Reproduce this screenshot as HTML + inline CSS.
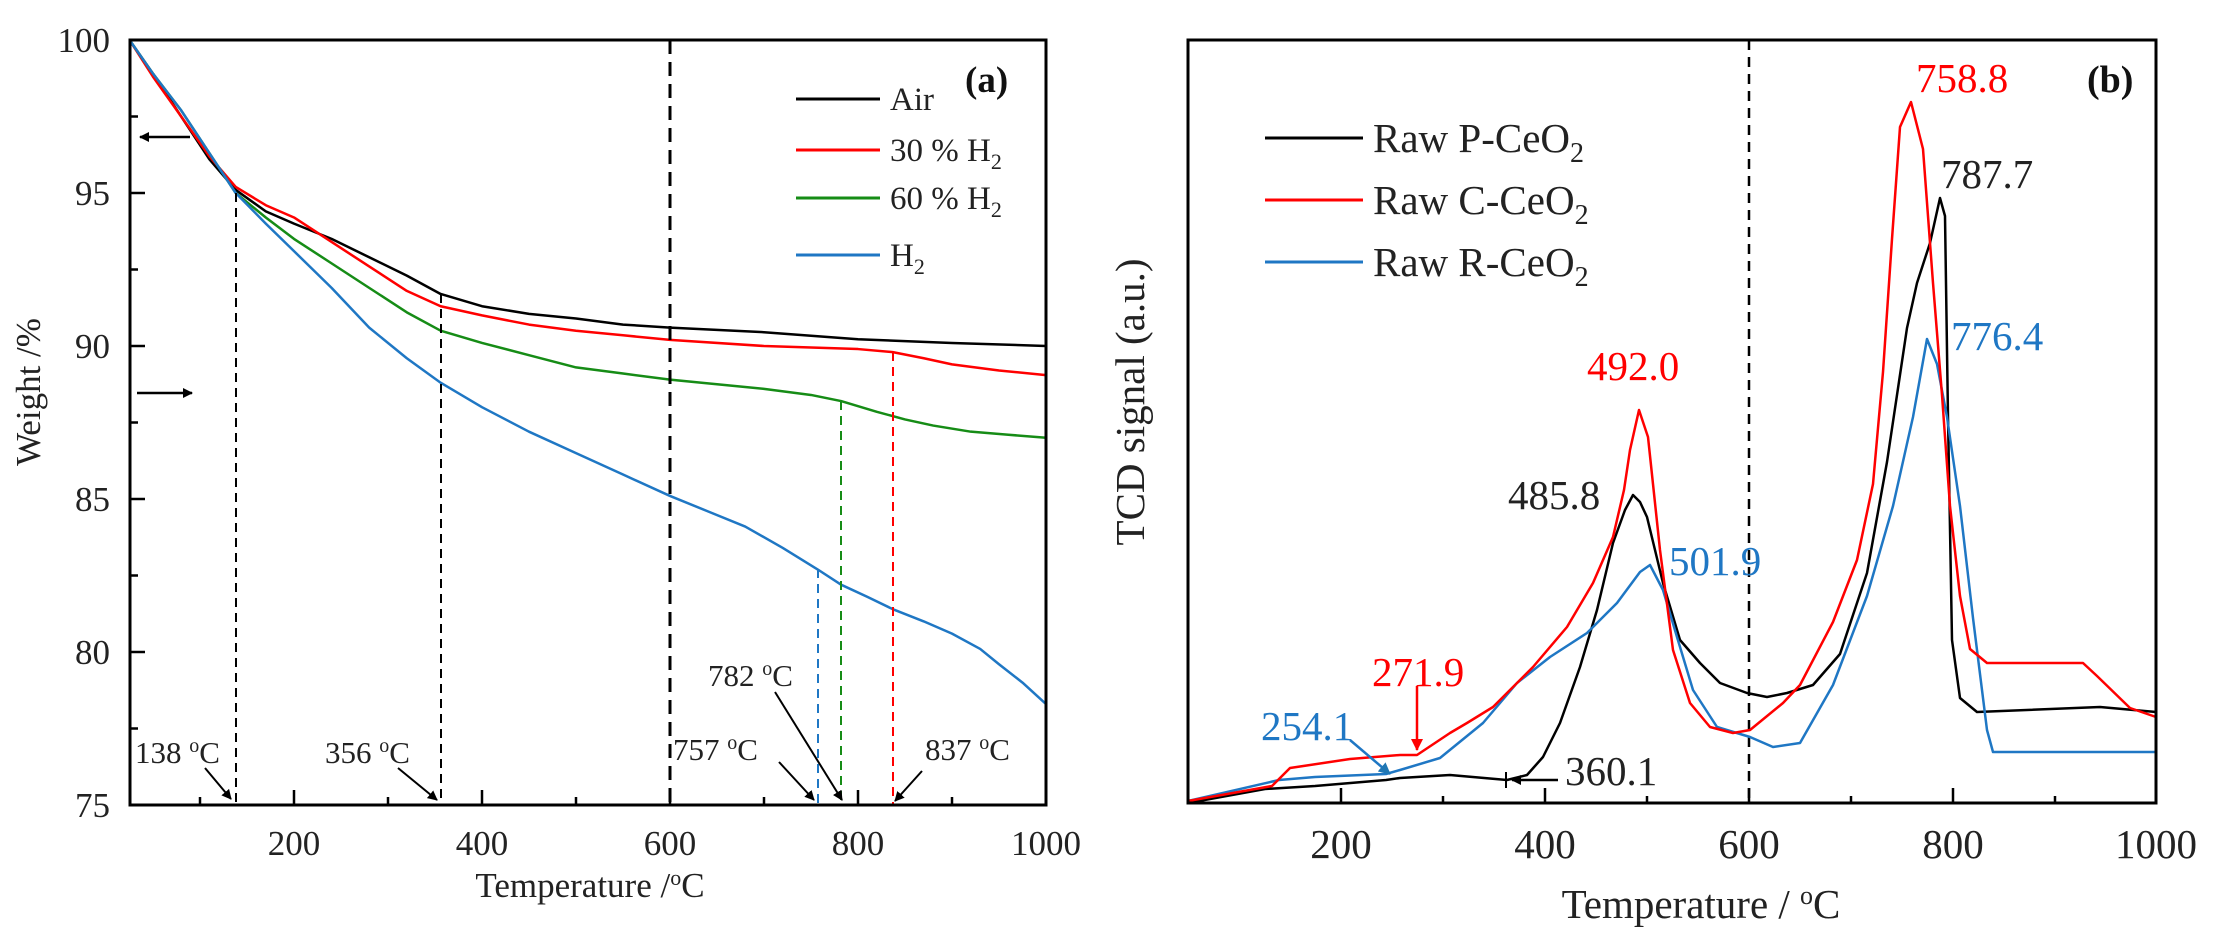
<!DOCTYPE html>
<html><head><meta charset="utf-8"><style>
html,body{margin:0;padding:0;background:#fff;}
svg{display:block;font-family:"Liberation Serif",serif;}
</style></head><body>
<svg width="2222" height="941" viewBox="0 0 2222 941" xmlns="http://www.w3.org/2000/svg">
<defs>
<marker id="ah" markerWidth="10" markerHeight="10" refX="9" refY="5" orient="auto" markerUnits="userSpaceOnUse"><path d="M0,0 L10,5 L0,10 z" fill="#000"/></marker>
<marker id="ahb" markerWidth="12" markerHeight="12" refX="11" refY="6" orient="auto" markerUnits="userSpaceOnUse"><path d="M0,0 L12,6 L0,12 z" fill="#1f77b4"/></marker>
<marker id="ahr" markerWidth="12" markerHeight="12" refX="11" refY="6" orient="auto" markerUnits="userSpaceOnUse"><path d="M0,0 L12,6 L0,12 z" fill="#f00"/></marker>
</defs>

<!-- ============ LEFT PANEL ============ -->
<g fill="none" stroke-width="2.5" stroke-linejoin="round">
<g transform="matrix(0.94 0 0 -30.6 106 3100)">
<polyline vector-effect="non-scaling-stroke" stroke="#000" points="25,100 50,98.9 80,97.5 110,96.1 138,95.1 170,94.4 200,94 240,93.5 280,92.9 320,92.3 356,91.7 400,91.3 450,91.05 500,90.9 550,90.7 600,90.6 700,90.45 800,90.22 900,90.1 1000,90"/>
<polyline vector-effect="non-scaling-stroke" stroke="#f00" points="25,100 50,98.8 80,97.5 110,96.2 138,95.2 170,94.6 200,94.2 240,93.4 280,92.6 320,91.8 356,91.3 400,91 450,90.7 500,90.5 550,90.35 600,90.2 700,90 800,89.9 837,89.8 870,89.6 900,89.4 950,89.2 1000,89.05"/>
<polyline vector-effect="non-scaling-stroke" stroke="#168c16" points="25,100 50,98.9 80,97.7 110,96.3 138,95.0 170,94.2 200,93.5 240,92.7 280,91.9 320,91.1 356,90.5 400,90.1 450,89.7 500,89.3 550,89.1 600,88.9 650,88.75 700,88.6 750,88.4 782,88.2 820,87.85 850,87.6 880,87.4 920,87.2 960,87.1 1000,87"/>
<polyline vector-effect="non-scaling-stroke" stroke="#1f77c4" points="25,100 50,98.9 80,97.7 110,96.3 138,95.0 170,94 200,93.1 240,91.9 280,90.6 320,89.6 356,88.8 400,88 450,87.2 500,86.5 550,85.8 600,85.1 640,84.6 680,84.1 720,83.4 757,82.7 782,82.2 810,81.8 837,81.4 870,81 900,80.6 930,80.1 950,79.6 975,79 1000,78.3"/>
</g>
</g>
<g fill="none" stroke-width="2" stroke-dasharray="9,6">
<line x1="236" y1="193" x2="236" y2="805" stroke="#000"/>
<line x1="441" y1="294" x2="441" y2="805" stroke="#000"/>
<line x1="670" y1="40" x2="670" y2="805" stroke="#000" stroke-width="3" stroke-dasharray="14,8"/>
<line x1="818" y1="569" x2="818" y2="805" stroke="#1f77c4"/>
<line x1="841" y1="401" x2="841" y2="805" stroke="#168c16"/>
<line x1="893" y1="352" x2="893" y2="805" stroke="#f00"/>
</g>
<rect x="130" y="40" width="916" height="765" fill="none" stroke="#000" stroke-width="3"/>
<g stroke="#000" stroke-width="2.5">
<line x1="200" y1="805" x2="200" y2="797"/><line x1="294" y1="805" x2="294" y2="790"/>
<line x1="388" y1="805" x2="388" y2="797"/><line x1="482" y1="805" x2="482" y2="790"/>
<line x1="576" y1="805" x2="576" y2="797"/><line x1="670" y1="805" x2="670" y2="790"/>
<line x1="764" y1="805" x2="764" y2="797"/><line x1="858" y1="805" x2="858" y2="790"/>
<line x1="952" y1="805" x2="952" y2="797"/>
<line x1="130" y1="805" x2="145" y2="805"/><line x1="130" y1="728.5" x2="138" y2="728.5"/>
<line x1="130" y1="652" x2="145" y2="652"/><line x1="130" y1="575.5" x2="138" y2="575.5"/>
<line x1="130" y1="499" x2="145" y2="499"/><line x1="130" y1="422.5" x2="138" y2="422.5"/>
<line x1="130" y1="346" x2="145" y2="346"/><line x1="130" y1="269.5" x2="138" y2="269.5"/>
<line x1="130" y1="193" x2="145" y2="193"/><line x1="130" y1="116.5" x2="138" y2="116.5"/>
<line x1="130" y1="40" x2="145" y2="40"/>
</g>
<g font-size="35" fill="#222" text-anchor="end">
<text x="110" y="817">75</text><text x="110" y="664">80</text><text x="110" y="511">85</text>
<text x="110" y="358">90</text><text x="110" y="205">95</text><text x="110" y="52">100</text>
</g>
<g font-size="35" fill="#222" text-anchor="middle">
<text x="294" y="855">200</text><text x="482" y="855">400</text><text x="670" y="855">600</text>
<text x="858" y="855">800</text><text x="1046" y="855">1000</text>
</g>
<text x="590" y="897" font-size="35" fill="#222" text-anchor="middle">Temperature /<tspan dy="-12" font-size="22">o</tspan><tspan dy="12">C</tspan></text>
<text transform="translate(40,392) rotate(-90)" font-size="35" fill="#222" text-anchor="middle">Weight /%</text>
<line x1="190" y1="137" x2="140" y2="137" stroke="#000" stroke-width="2.5" marker-end="url(#ah)"/>
<line x1="137" y1="393" x2="192" y2="393" stroke="#000" stroke-width="2.5" marker-end="url(#ah)"/>
<g stroke-width="3">
<line x1="796" y1="99" x2="880" y2="99" stroke="#000"/>
<line x1="796" y1="150" x2="880" y2="150" stroke="#f00"/>
<line x1="796" y1="198" x2="880" y2="198" stroke="#168c16"/>
<line x1="796" y1="255" x2="880" y2="255" stroke="#1f77c4"/>
</g>
<g font-size="33" fill="#222">
<text x="890" y="110">Air</text>
<text x="890" y="161">30 % H<tspan dy="8" font-size="22">2</tspan></text>
<text x="890" y="209">60 % H<tspan dy="8" font-size="22">2</tspan></text>
<text x="890" y="266">H<tspan dy="8" font-size="22">2</tspan></text>
</g>
<text x="965" y="92" font-size="37" font-weight="bold" fill="#111">(a)</text>
<g font-size="31" fill="#222">
<text x="135" y="763">138 <tspan dy="-11" font-size="20">o</tspan><tspan dy="11">C</tspan></text>
<text x="325" y="763">356 <tspan dy="-11" font-size="20">o</tspan><tspan dy="11">C</tspan></text>
<text x="708" y="686">782 <tspan dy="-11" font-size="20">o</tspan><tspan dy="11">C</tspan></text>
<text x="673" y="760">757 <tspan dy="-11" font-size="20">o</tspan><tspan dy="11">C</tspan></text>
<text x="925" y="760">837 <tspan dy="-11" font-size="20">o</tspan><tspan dy="11">C</tspan></text>
</g>
<g stroke="#000" stroke-width="2" marker-end="url(#ah)">
<line x1="205" y1="768" x2="231" y2="799"/>
<line x1="398" y1="768" x2="437" y2="800"/>
<line x1="775" y1="692" x2="842" y2="800"/>
<line x1="779" y1="762" x2="814" y2="800"/>
<line x1="922" y1="771" x2="895" y2="801"/>
</g>

<!-- ============ RIGHT PANEL ============ -->
<line x1="1749" y1="40" x2="1749" y2="803" stroke="#000" stroke-width="2.5" stroke-dasharray="10,7"/>
<g fill="none" stroke-width="2.5" stroke-linejoin="round">
<polyline stroke="#000" points="1188,803 1265,789 1315,786 1386,780 1400,778 1450,775 1507,780 1527,775 1543,757 1560,723 1580,667 1597,610 1613,543 1625,510 1633,495 1640,502 1647,517 1663,583 1680,640 1700,663 1720,683 1747,693 1767,697 1787,693 1800,689 1813,685 1840,654 1867,573 1887,462 1907,328 1917,283 1930,243 1940,198 1945,216 1948,417 1952,640 1960,698 1977,712 2100,707 2156,712"/>
<polyline stroke="#1f77c4" points="1188,801 1279,780 1315,777 1386,774 1400,770 1440,758 1483,723 1517,683 1550,657 1587,633 1617,603 1640,572 1650,565 1663,590 1677,637 1693,690 1717,727 1750,737 1773,747 1800,743 1833,685 1867,596 1893,506 1913,417 1927,339 1937,364 1947,417 1960,506 1973,618 1987,730 1993,752 2100,752 2156,752"/>
<polyline stroke="#f00" points="1188,801 1272,786 1290,768 1350,759 1400,755 1417,755 1450,733 1467,723 1493,707 1533,667 1567,627 1593,583 1613,537 1624,490 1630,450 1639,410 1648,437 1660,550 1673,650 1690,703 1710,727 1733,733 1750,730 1783,703 1800,685 1833,622 1857,560 1873,484 1883,372 1892,239 1900,127 1911,102 1923,149 1933,283 1942,395 1950,506 1960,596 1970,649 1987,663 2083,663 2097,676 2130,708 2156,717"/>
</g>
<rect x="1188" y="40" width="968" height="763" fill="none" stroke="#000" stroke-width="3"/>
<g stroke="#000" stroke-width="2.5">
<line x1="1341" y1="803" x2="1341" y2="788"/><line x1="1443" y1="803" x2="1443" y2="796"/>
<line x1="1545" y1="803" x2="1545" y2="788"/><line x1="1647" y1="803" x2="1647" y2="796"/>
<line x1="1749" y1="803" x2="1749" y2="788"/><line x1="1851" y1="803" x2="1851" y2="796"/>
<line x1="1953" y1="803" x2="1953" y2="788"/><line x1="2055" y1="803" x2="2055" y2="796"/>
</g>
<g font-size="41" fill="#222" text-anchor="middle">
<text x="1341" y="858">200</text><text x="1545" y="858">400</text><text x="1749" y="858">600</text>
<text x="1953" y="858">800</text><text x="2156" y="858">1000</text>
</g>
<text x="1701" y="918" font-size="41" fill="#222" text-anchor="middle">Temperature / <tspan dy="-14" font-size="26">o</tspan><tspan dy="14">C</tspan></text>
<text transform="translate(1144,402) rotate(-90)" font-size="41" fill="#222" text-anchor="middle">TCD signal (a.u.)</text>
<g stroke-width="3">
<line x1="1265" y1="138" x2="1363" y2="138" stroke="#000"/>
<line x1="1265" y1="200" x2="1363" y2="200" stroke="#f00"/>
<line x1="1265" y1="262" x2="1363" y2="262" stroke="#1f77c4"/>
</g>
<g font-size="41" fill="#222">
<text x="1373" y="152">Raw P-CeO<tspan dy="10" font-size="28">2</tspan></text>
<text x="1373" y="214">Raw C-CeO<tspan dy="10" font-size="28">2</tspan></text>
<text x="1373" y="276">Raw R-CeO<tspan dy="10" font-size="28">2</tspan></text>
</g>
<text x="2087" y="92" font-size="38" font-weight="bold" fill="#111">(b)</text>
<g font-size="41">
<text x="1916" y="92" fill="#f00">758.8</text>
<text x="1941" y="188" fill="#222">787.7</text>
<text x="1951" y="350" fill="#1f77c4">776.4</text>
<text x="1587" y="380" fill="#f00">492.0</text>
<text x="1508" y="509" fill="#222">485.8</text>
<text x="1669" y="575" fill="#1f77c4">501.9</text>
<text x="1372" y="686" fill="#f00">271.9</text>
<text x="1261" y="740" fill="#1f77c4">254.1</text>
<text x="1565" y="785" fill="#222">360.1</text>
</g>
<line x1="1417" y1="686" x2="1417" y2="750" stroke="#f00" stroke-width="2.5" marker-end="url(#ahr)"/>
<line x1="1350" y1="740" x2="1390" y2="774" stroke="#1f77c4" stroke-width="2.5" marker-end="url(#ahb)"/>
<line x1="1558" y1="780" x2="1512" y2="780" stroke="#000" stroke-width="2.5" marker-end="url(#ah)"/>
<line x1="1506" y1="772" x2="1506" y2="788" stroke="#000" stroke-width="2"/>
</svg>
</body></html>
